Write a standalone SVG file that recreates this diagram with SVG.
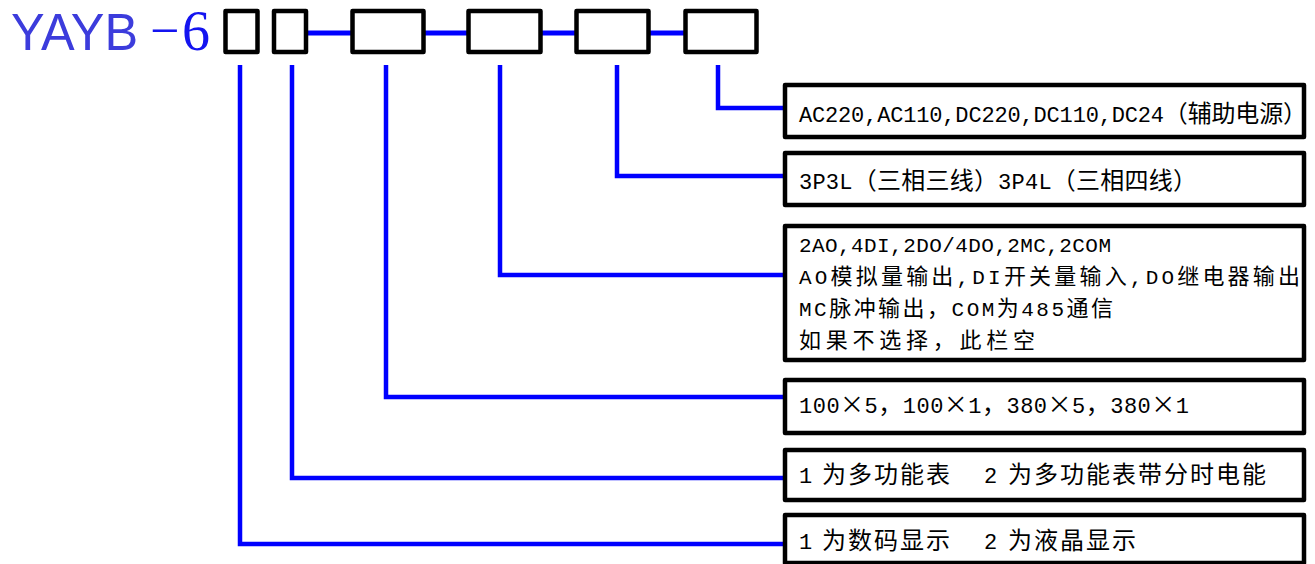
<svg xmlns="http://www.w3.org/2000/svg" width="1315" height="564" viewBox="0 0 1315 564">
<style>
.box{fill:#fff;stroke:#000;stroke-width:4.5;stroke-linejoin:round}
.wire{fill:none;stroke:#0000ff;stroke-width:4.5;stroke-linejoin:miter}
.top{fill:none;stroke:#0000ff;stroke-width:5}
.t{font-family:"Liberation Mono","Noto Sans CJK SC",monospace;font-size:22px;fill:#000;white-space:pre}
.c{font-family:"Noto Sans CJK SC","Liberation Sans",sans-serif;font-size:24px}
.s{font-size:21px}
.cs{font-family:"Noto Sans CJK SC","Liberation Sans",sans-serif;font-size:22px}
.cj{font-family:"Noto Sans CJK SC","Liberation Sans",sans-serif;font-size:24px;letter-spacing:2px;fill:#000}
</style>
<rect width="1315" height="564" fill="#fff"/>
<g id="title">
<text x="11" y="49.5" font-family="Liberation Sans, Arial, sans-serif" font-size="52" fill="#3c3cdc" textLength="127" lengthAdjust="spacingAndGlyphs">YAYB</text>
<text font-family="Liberation Serif, Times New Roman, serif" fill="#1414f0"><tspan x="150" y="48" font-size="52">−</tspan><tspan x="182" y="50" font-size="56">6</tspan></text>
</g>
<g id="connectors">
<line class="top" x1="306" y1="33" x2="352" y2="33"/>
<line class="top" x1="423" y1="33" x2="468" y2="33"/>
<line class="top" x1="540" y1="33" x2="576" y2="33"/>
<line class="top" x1="648" y1="33" x2="685" y2="33"/>
<polyline class="wire" points="718,65 718,108 785,108"/>
<polyline class="wire" points="617,65 617,176 785,176"/>
<polyline class="wire" points="500,65 500,275 785,275"/>
<polyline class="wire" points="386,65 386,397 785,397"/>
<polyline class="wire" points="292,65 292,478 785,478"/>
<polyline class="wire" points="240,65 240,544 785,544"/>
</g>
<g id="code-boxes">
<rect class="box" x="225.5" y="11" width="32" height="41"/>
<rect class="box" x="274" y="11" width="32" height="41"/>
<rect class="box" x="352.5" y="11" width="71" height="41"/>
<rect class="box" x="468.5" y="11" width="72" height="41"/>
<rect class="box" x="576.5" y="11" width="72" height="41"/>
<rect class="box" x="685.5" y="11" width="71" height="41"/>
</g>
<g id="node-power">
<rect class="box" x="785" y="85" width="519" height="52"/>
<text class="t" x="799" y="122" textLength="508" lengthAdjust="spacing">AC220,AC110,DC220,DC110,DC24<tspan class="c">（辅助电源）</tspan></text>
</g>
<g id="node-wiring">
<rect class="box" x="785" y="153" width="519" height="52"/>
<text class="t" x="799" y="189" textLength="398" lengthAdjust="spacing">3P3L<tspan class="c">（三相三线）</tspan>3P4L<tspan class="c">（三相四线）</tspan></text>
</g>
<g id="node-io">
<rect class="box" x="785" y="226" width="519" height="134"/>
<text class="t s" x="799" y="252" textLength="312" lengthAdjust="spacing">2AO,4DI,2DO/4DO,2MC,2COM</text>
<text class="t s" x="799" y="284" textLength="501" lengthAdjust="spacing">AO<tspan class="cs">模拟量输出</tspan>,DI<tspan class="cs">开关量输入</tspan>,DO<tspan class="cs">继电器输出</tspan></text>
<text class="t s" x="799" y="316" textLength="314" lengthAdjust="spacing">MC<tspan class="cs">脉冲输出，</tspan>COM<tspan class="cs">为</tspan>485<tspan class="cs">通信</tspan></text>
<text class="t s" x="799" y="348" textLength="236" lengthAdjust="spacing"><tspan class="cs">如果不选择，此栏空</tspan></text>
</g>
<g id="node-input">
<rect class="box" x="785" y="380" width="519" height="53"/>
<text class="t" x="799" y="413" textLength="390" lengthAdjust="spacing">100<tspan class="c">×</tspan>5<tspan class="c">，</tspan>100<tspan class="c">×</tspan>1<tspan class="c">，</tspan>380<tspan class="c">×</tspan>5<tspan class="c">，</tspan>380<tspan class="c">×</tspan>1</text>
</g>
<g id="node-function">
<rect class="box" x="785" y="450" width="519" height="50"/>
<text class="t" x="799" y="483">1</text>
<text class="cj" x="822" y="483">为多功能表</text>
<text class="t" x="984" y="483">2</text>
<text class="cj" x="1008" y="483">为多功能表带分时电能</text>
</g>
<g id="node-display">
<rect class="box" x="785" y="515" width="519" height="48"/>
<text class="t" x="799" y="549">1</text>
<text class="cj" x="822" y="549">为数码显示</text>
<text class="t" x="984" y="549">2</text>
<text class="cj" x="1008" y="549">为液晶显示</text>
</g>
</svg>
